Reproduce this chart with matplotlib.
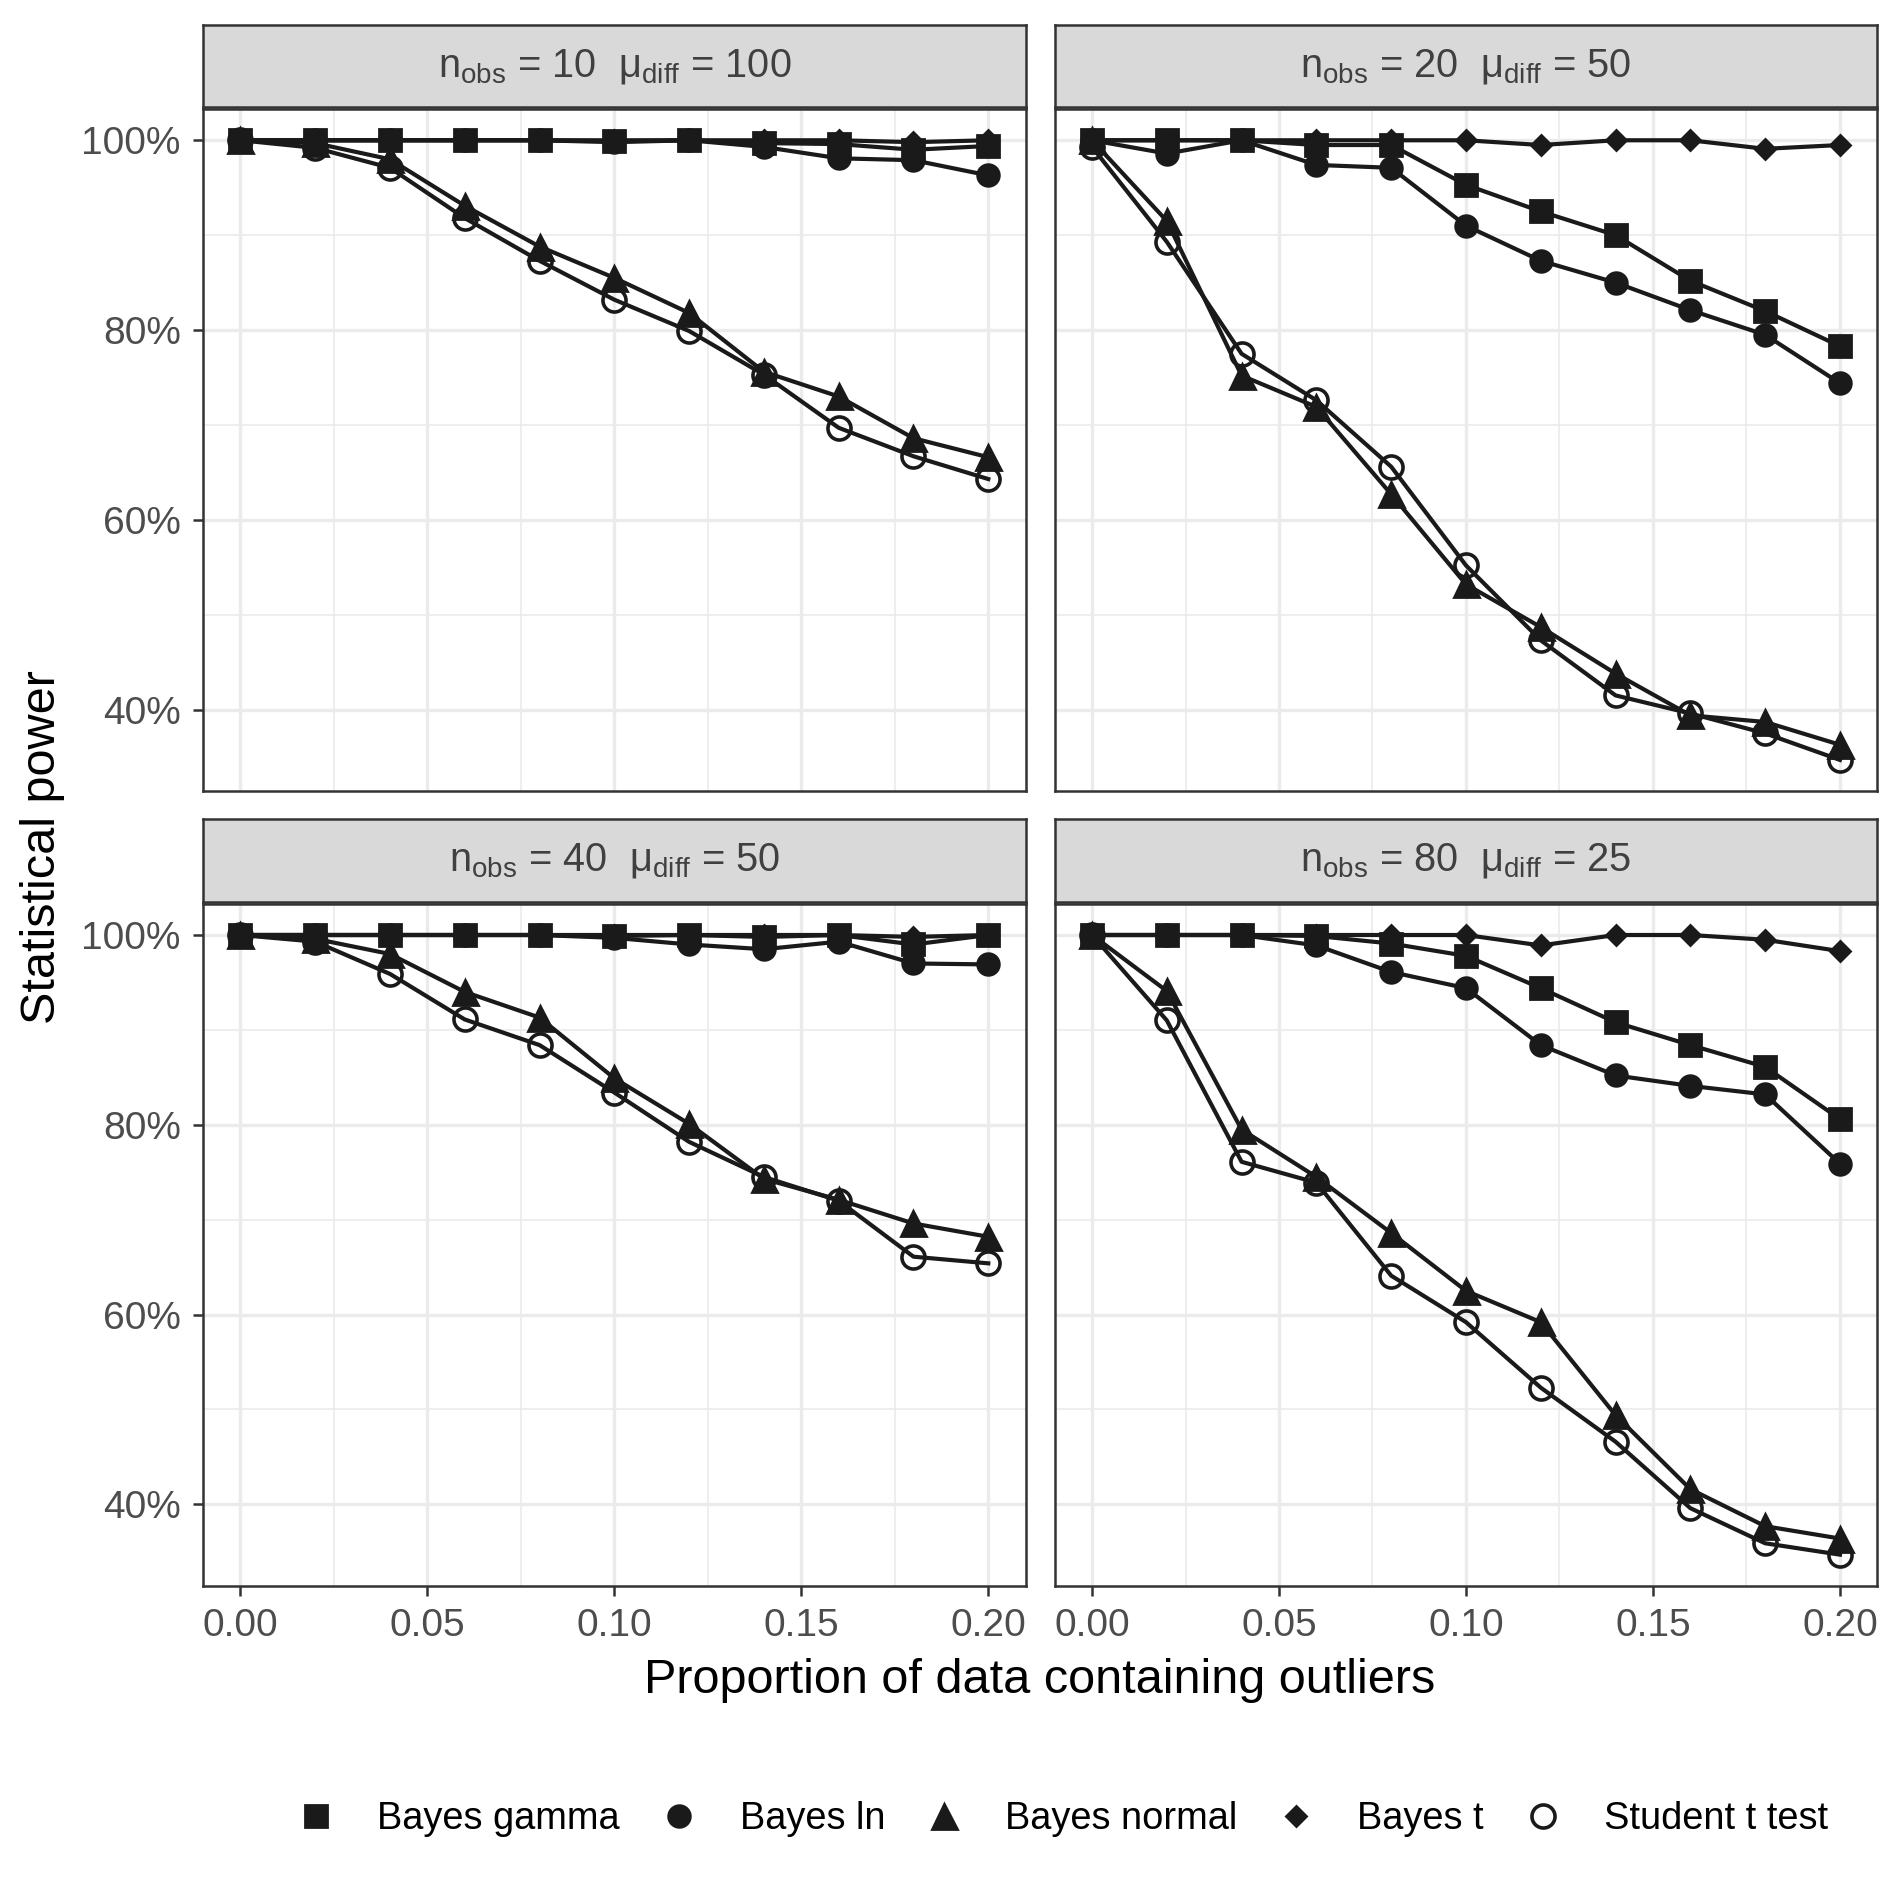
import numpy as np
import matplotlib
matplotlib.use("Agg")
from matplotlib import pyplot as plt
from matplotlib.lines import Line2D
from matplotlib.ticker import FuncFormatter, MultipleLocator

plt.rcParams['font.family'] = ['Liberation Sans', 'DejaVu Sans']
plt.rcParams['mathtext.default'] = 'regular'

# proportion of outliers (x axis)
proportion = [0.00, 0.02, 0.04, 0.06, 0.08, 0.10, 0.12, 0.14, 0.16, 0.18, 0.20]

methods = ["Bayes gamma", "Bayes ln", "Bayes normal", "Bayes t", "Student t test"]

panel_titles = [
    r"$n_{obs}$ = 10  $μ_{diff}$ = 100",
    r"$n_{obs}$ = 20  $μ_{diff}$ = 50",
    r"$n_{obs}$ = 40  $μ_{diff}$ = 50",
    r"$n_{obs}$ = 80  $μ_{diff}$ = 25",
]

# statistical power (%) per panel, one list per method
power_n10 = [
    [100, 100, 100, 100, 100, 99.9, 100, 99.7, 99.6, 99.0, 99.4],
    [100, 100, 100, 100, 100, 99.8, 100, 99.3, 98.1, 97.9, 96.3],
    [100, 99.7, 98.0, 93.1, 88.8, 85.5, 81.8, 75.6, 73.0, 68.6, 66.6],
    [100, 100, 100, 100, 100, 100, 100, 100, 100, 99.8, 100],
    [100, 99.2, 97.1, 91.8, 87.3, 83.2, 79.9, 75.3, 69.7, 66.7, 64.3],
]
power_n20 = [
    [100, 100, 100, 99.5, 99.5, 95.3, 92.5, 90.0, 85.2, 82.0, 78.3],
    [100, 98.6, 100, 97.4, 97.1, 91.0, 87.3, 85.0, 82.1, 79.5, 74.4],
    [100, 91.5, 75.2, 71.9, 62.7, 53.2, 48.7, 43.8, 39.4, 38.7, 36.3],
    [100, 100, 100, 100, 100, 100, 99.5, 100, 100, 99.1, 99.5],
    [99.3, 89.3, 77.5, 72.6, 65.6, 55.2, 47.3, 41.5, 39.6, 37.5, 34.7],
]
power_n40 = [
    [100, 100, 100, 100, 100, 99.9, 100, 99.8, 100, 99.0, 100],
    [100, 100, 100, 100, 100, 99.7, 99.0, 98.5, 99.3, 97.0, 96.9],
    [100, 99.6, 98.0, 94.0, 91.3, 84.9, 80.1, 74.3, 72.1, 69.6, 68.2],
    [100, 100, 100, 100, 100, 100, 100, 100, 100, 99.8, 100],
    [100, 99.3, 95.9, 91.1, 88.4, 83.4, 78.2, 74.5, 72.0, 66.1, 65.4],
]
power_n80 = [
    [100, 100, 100, 99.9, 99.1, 97.8, 94.4, 90.8, 88.4, 86.1, 80.6],
    [100, 100, 100, 98.9, 96.1, 94.4, 88.4, 85.2, 84.1, 83.2, 75.9],
    [100, 94.1, 79.5, 74.5, 68.6, 62.5, 59.2, 49.4, 41.6, 37.7, 36.4],
    [100, 100, 100, 100, 100, 100, 98.9, 100, 100, 99.5, 98.3],
    [100, 91.0, 76.1, 73.9, 64.1, 59.2, 52.3, 46.6, 39.6, 35.9, 34.7],
]
panels = [power_n10, power_n20, power_n40, power_n80]

INK = "#1a1a1a"
styles = {
    "Bayes gamma": dict(marker="s", markersize=7.8, mfc=INK, mec=INK),
    "Bayes ln": dict(marker="o", markersize=7.8, mfc=INK, mec=INK),
    "Bayes normal": dict(marker="^", markersize=9.0, mfc=INK, mec=INK),
    "Bayes t": dict(marker="D", markersize=5.2, mfc=INK, mec=INK),
    "Student t test": dict(marker="o", markersize=8.3, mfc="none", mec=INK, mew=1.3),
}

all_vals = np.concatenate([np.ravel(p) for p in panels])
span = all_vals.max() - all_vals.min()
ylim = (all_vals.min() - 0.05 * span, all_vals.max() + 0.05 * span)
xlim = (-0.01, 0.21)

fig = plt.figure(figsize=(9.52, 9.52), dpi=200)

lefts = [0.1066, 0.5539]
width = 0.986 - 0.5539
bottoms = [0.5846, 0.1672]
height = 0.358
strip_h = 0.0434

for k, data in enumerate(panels):
    row, col = divmod(k, 2)
    ax = fig.add_axes([lefts[col], bottoms[row], width, height])
    for m, vals in zip(methods, data):
        ax.plot(proportion, vals, color=INK, lw=1.5, zorder=3, **styles[m])
    ax.set_xlim(xlim)
    ax.set_ylim(ylim)
    ax.xaxis.set_major_locator(MultipleLocator(0.05))
    ax.xaxis.set_minor_locator(MultipleLocator(0.025))
    ax.yaxis.set_major_locator(MultipleLocator(20))
    ax.yaxis.set_minor_locator(MultipleLocator(10))
    ax.yaxis.set_major_formatter(FuncFormatter(lambda v, p: f"{v:.0f}%"))
    ax.xaxis.set_major_formatter(FuncFormatter(lambda v, p: f"{v:.2f}"))
    ax.grid(which="major", color="#ebebeb", lw=1.2)
    ax.grid(which="minor", color="#ebebeb", lw=0.6)
    ax.set_axisbelow(True)
    for s in ax.spines.values():
        s.set_color("#333333")
        s.set_linewidth(0.9)
    ax.tick_params(which="major", direction="out", length=3.5, width=0.9,
                   color="#333333", labelcolor="#4d4d4d", labelsize=14, pad=4.5)
    ax.tick_params(which="minor", length=0)
    if row == 0:
        ax.tick_params(axis="x", which="major", length=0, labelbottom=False)
    if col == 1:
        ax.tick_params(axis="y", which="major", length=0, labelleft=False)

    sx = fig.add_axes([lefts[col], bottoms[row] + height + 0.001, width, strip_h])
    sx.set_facecolor("#d9d9d9")
    sx.set_xticks([])
    sx.set_yticks([])
    for s in sx.spines.values():
        s.set_color("#333333")
        s.set_linewidth(0.9)
    sx.text(0.5, 0.5, panel_titles[k], ha="center", va="center",
            fontsize=14.3, color="#404040", transform=sx.transAxes)

fig.text(0.546, 0.1174, "Proportion of data containing outliers",
         ha="center", va="center", fontsize=17.5, color="black")
fig.text(0.0223, 0.555, "Statistical power", ha="center", va="center",
         rotation=90, fontsize=17.5, color="black")

handles = [Line2D([], [], linestyle="none", color=INK, **styles[m]) for m in methods]
fig.legend(handles, methods, loc="center", bbox_to_anchor=(0.558, 0.0447), ncol=5,
           frameon=False, fontsize=13.7, handlelength=1.0, handletextpad=1.1,
           columnspacing=1.05)

fig.savefig("out.png", dpi=200)
